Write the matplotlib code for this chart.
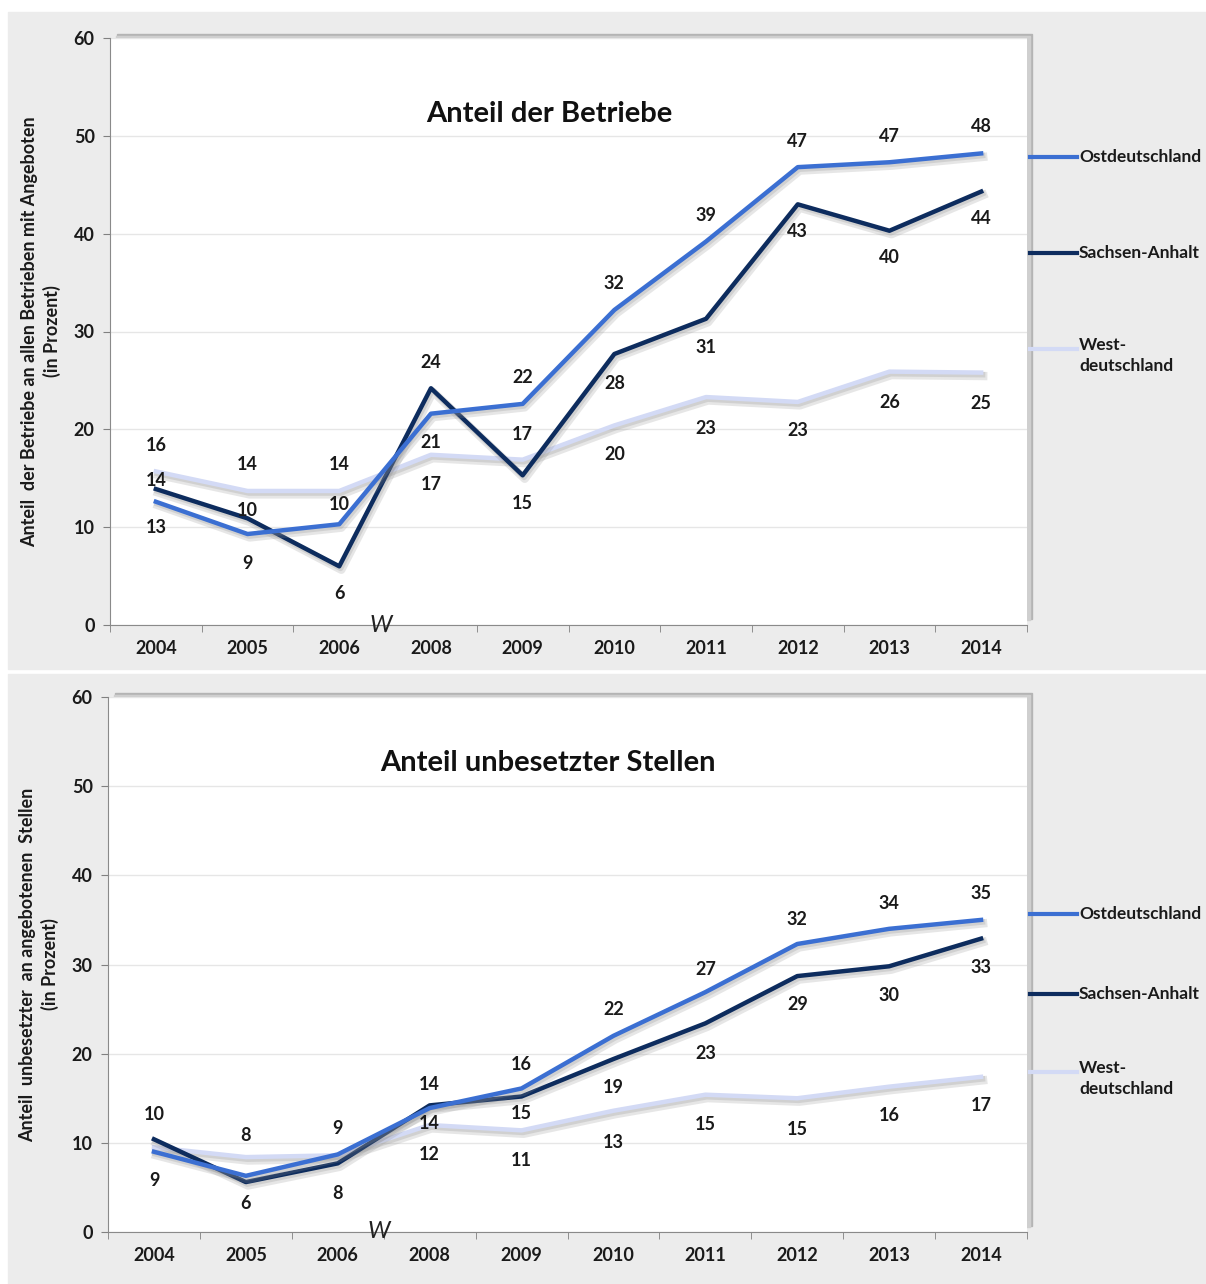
import numpy as np
import matplotlib
matplotlib.use("Agg")
import matplotlib.pyplot as plt
import matplotlib.patheffects as pe
from matplotlib.lines import Line2D
from matplotlib.patches import Rectangle

plt.rcParams['font.family'] = ['Lato', 'DejaVu Sans']
plt.rcParams['font.weight'] = 'bold'

W, H = 1206, 1284

years = ['2004', '2005', '2006', '2008', '2009', '2010', '2011', '2012', '2013', '2014']
series_names = ['Ostdeutschland', 'Sachsen-Anhalt', 'West-\ndeutschland']

# oberes Diagramm: Anteil der Betriebe
betr_ost = [12.6, 9.3, 10.3, 21.6, 22.6, 32.2, 39.2, 46.8, 47.3, 48.2]
betr_sa = [13.9, 10.9, 6.0, 24.2, 15.3, 27.7, 31.3, 43.0, 40.3, 44.3]
betr_west = [15.7, 13.7, 13.7, 17.4, 16.9, 20.4, 23.3, 22.8, 25.9, 25.8]
betr_lab_ost = [13, 9, 10, 21, 22, 32, 39, 47, 47, 48]
betr_lab_sa = [14, 10, 6, 24, 15, 28, 31, 43, 40, 44]
betr_lab_west = [16, 14, 14, 17, 17, 20, 23, 23, 26, 25]

# unteres Diagramm: Anteil unbesetzter Stellen
st_ost = [9.0, 6.3, 8.7, 13.9, 16.1, 22.0, 26.9, 32.3, 34.0, 35.0]
st_sa = [10.4, 5.6, 7.7, 14.2, 15.2, 19.4, 23.4, 28.7, 29.8, 32.9]
st_west = [9.5, 8.4, 8.6, 12.0, 11.4, 13.6, 15.4, 15.0, 16.3, 17.4]
st_lab_ost = [9, 6, 9, 14, 16, 22, 27, 32, 34, 35]
st_lab_sa = [10, None, 8, 14, 15, 19, 23, 29, 30, 33]
st_lab_west = [None, 8, None, 12, 11, 13, 15, 15, 16, 17]

colors = ['#3b6fd2', '#0d2c5e', '#d3daf5']

# label offsets in pixels (positive = below the line)
off_top = [
    [26, 29, -20, 29, -26, -26, -26, -26, -26, -27],
    [-9, -8, 27, -26, 28, 29, 29, 27, 27, 27],
    [-26, -26, -26, 30, -25, 29, 31, 29, 31, 31],
]
off_bot = [
    [29, 28, -26, -24, -24, -26, -23, -24, -25, -26],
    [-25, 28, 30, 18, 17, 28, 30, 28, 29, 29],
    [-25, -22, -26, 29, 30, 32, 30, 31, 29, 29],
]

fig = plt.figure(figsize=(W / 100, H / 100), dpi=100)
fig.patch.set_facecolor('white')


def fx(px):
    return px / W


def fy(py):
    return 1 - py / H


# graue Hintergrundflaechen
fig.patches.append(Rectangle((fx(8), fy(669)), fx(1206) - fx(8), fy(12) - fy(669),
                             transform=fig.transFigure, color='#ececec', zorder=-10))
fig.patches.append(Rectangle((fx(8), fy(1284)), fx(1206) - fx(8), fy(674) - fy(1284),
                             transform=fig.transFigure, color='#ececec', zorder=-10))


def panel(rect, title, title_y, ylabel, vals, labels, offs, legend_y):
    l, t, r, b = rect
    # schatten der Zeichenflaeche
    fig.patches.append(Rectangle((fx(l + 7), fy(b - 6)), fx(r + 5) - fx(l + 7), fy(t - 4) - fy(b - 6),
                                 transform=fig.transFigure, color='#b4b4b4', zorder=-5))
    fig.patches.append(Rectangle((fx(l + 6), fy(b - 5)), fx(r + 3) - fx(l + 6), fy(t - 2) - fy(b - 5),
                                 transform=fig.transFigure, color='#cfcfcf', zorder=-4))
    ax = fig.add_axes([fx(l), fy(b), fx(r) - fx(l), fy(t) - fy(b)])
    ax.set_facecolor('white')
    x = np.arange(len(years))
    for i in range(3):
        ax.plot(x, vals[i], color=colors[i], lw=3.2, zorder=3 + (2 - i) * 0.1,
                path_effects=[pe.SimpleLineShadow(offset=(1.5, -2.5), shadow_color='#909090', alpha=0.22, linewidth=6),
                              pe.SimpleLineShadow(offset=(1, -1.5), shadow_color='#909090', alpha=0.25, linewidth=4),
                              pe.Normal()])
        for j in range(len(years)):
            if labels[i][j] is None:
                continue
            ax.annotate(str(labels[i][j]), (x[j], vals[i][j]), xytext=(0, -offs[i][j]),
                        textcoords='offset pixels', ha='center', va='center',
                        fontsize=13, fontweight='bold', color='#1a1a1a', zorder=6)
    ax.set_xlim(-0.5, len(years) - 0.5)
    ax.set_ylim(0, 60)
    ax.set_yticks(range(0, 61, 10))
    ax.set_xticks(x)
    ax.set_xticklabels(years)
    ax.set_xticks(np.arange(-0.5, len(years), 1), minor=True)
    ax.tick_params(axis='x', which='major', length=0, pad=11, labelsize=13)
    ax.tick_params(axis='x', which='minor', length=5, color='#808080', direction='out')
    ax.tick_params(axis='y', length=5, color='#808080', pad=6, labelsize=13)
    for lab in ax.get_xticklabels() + ax.get_yticklabels():
        lab.set_fontweight('bold')
        lab.set_color('#1a1a1a')
    ax.grid(axis='y', color='#e6e6e6', lw=1)
    ax.set_axisbelow(True)
    for s in ['top', 'right']:
        ax.spines[s].set_visible(False)
    ax.spines['left'].set_color('#8a8a8a')
    ax.spines['bottom'].set_color('#8a8a8a')
    ax.text(4.29, title_y, title, ha='center', va='center', fontsize=21, fontweight='bold', color='#111111')
    # Achsenbruch
    ax.text(2.45, 0, 'W', ha='center', va='center', fontsize=17, fontweight='normal',
            style='italic', color='#222222', clip_on=False, zorder=7)
    ax.set_ylabel(ylabel, fontsize=13, fontweight='bold', labelpad=9, linespacing=1.3, color='#1a1a1a')
    # Legende
    for i in range(3):
        yy = legend_y[i]
        fig.add_artist(Line2D([fx(1030), fx(1077)], [fy(yy), fy(yy)], transform=fig.transFigure,
                              color=colors[i], lw=3))
        if '\n' in series_names[i]:
            fig.text(fx(1079), fy(yy - 12), series_names[i], ha='left', va='top',
                     fontsize=12.5, fontweight='bold', color='#1a1a1a', linespacing=1.4)
        else:
            fig.text(fx(1079), fy(yy), series_names[i], ha='left', va='center',
                     fontsize=12.5, fontweight='bold', color='#1a1a1a')
    return ax


panel((110, 38, 1027, 625), 'Anteil der Betriebe', 52.2,
      'Anteil  der Betriebe an allen Betrieben mit Angeboten\n(in Prozent)',
      [betr_ost, betr_sa, betr_west], [betr_lab_ost, betr_lab_sa, betr_lab_west], off_top,
      [157, 253, 349])

panel((108, 697, 1027, 1232), 'Anteil unbesetzter Stellen', 52.6,
      'Anteil  unbesetzter  an angebotenen  Stellen\n(in Prozent)',
      [st_ost, st_sa, st_west], [st_lab_ost, st_lab_sa, st_lab_west], off_bot,
      [914, 994, 1072])

fig.savefig('out.png', dpi=100, facecolor=fig.get_facecolor())
